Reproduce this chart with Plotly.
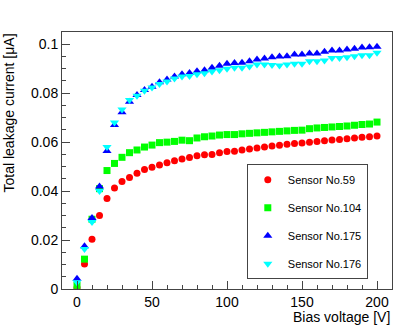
import plotly.graph_objects as go

# bias voltage steps [V]
voltage = list(range(0, 205, 5))

# total leakage current [uA]
sensor_59 = [0.0005, 0.0102, 0.0203, 0.0300, 0.0370, 0.0413, 0.0439, 0.0456, 0.0473, 0.0488,
             0.0497, 0.0507, 0.0516, 0.0524, 0.0531, 0.0537, 0.0544, 0.0548, 0.0550, 0.0557,
             0.0562, 0.0563, 0.0568, 0.0572, 0.0576, 0.0580, 0.0584, 0.0587, 0.0591, 0.0594,
             0.0597, 0.0600, 0.0603, 0.0606, 0.0609, 0.0611, 0.0614, 0.0617, 0.0620, 0.0622,
             0.0625]
sensor_104 = [0.0015, 0.0122, 0.0285, 0.0410, 0.0484, 0.0513, 0.0538, 0.0557, 0.0568, 0.0580,
              0.0588, 0.0598, 0.0600, 0.0603, 0.0608, 0.0606, 0.0617, 0.0622, 0.0625, 0.0629,
              0.0631, 0.0631, 0.0634, 0.0636, 0.0638, 0.0640, 0.0642, 0.0644, 0.0646, 0.0648,
              0.0649, 0.0655, 0.0658, 0.0660, 0.0662, 0.0664, 0.0666, 0.0669, 0.0672, 0.0674,
              0.0682]
sensor_175 = [0.0042, 0.0175, 0.0290, 0.0419, 0.0564, 0.0670, 0.0722, 0.0765, 0.0793, 0.0813,
              0.0826, 0.0845, 0.0856, 0.0868, 0.0877, 0.0883, 0.0890, 0.0894, 0.0904, 0.0912,
              0.0920, 0.0923, 0.0924, 0.0931, 0.0938, 0.0942, 0.0947, 0.0950, 0.0951, 0.0958,
              0.0958, 0.0962, 0.0962, 0.0969, 0.0974, 0.0974, 0.0978, 0.0982, 0.0987, 0.0988,
              0.0990]
sensor_176 = [0.0028, 0.0163, 0.0274, 0.0400, 0.0580, 0.0680, 0.0733, 0.0772, 0.0790, 0.0810,
              0.0823, 0.0838, 0.0848, 0.0860, 0.0868, 0.0870, 0.0877, 0.0881, 0.0889, 0.0894,
              0.0900, 0.0904, 0.0904, 0.0909, 0.0917, 0.0917, 0.0915, 0.0913, 0.0917, 0.0920,
              0.0920, 0.0931, 0.0931, 0.0934, 0.0944, 0.0944, 0.0947, 0.0951, 0.0955, 0.0955,
              0.0965]

series = [
    ("Sensor No.59", sensor_59, "#ff0000", "circle", 7),
    ("Sensor No.104", sensor_104, "#00ff00", "square", 7),
    ("Sensor No.175", sensor_175, "#0000ff", "triangle-up", 8),
    ("Sensor No.176", sensor_176, "#00ffff", "triangle-down", 8),
]

font = "Liberation Sans, Arial, sans-serif"

fig = go.Figure()
for i, (name, values, color, symbol, size) in enumerate(series):
    fig.add_trace(
        go.Scatter(
            x=voltage,
            y=values,
            mode="markers",
            name=name,
            legendgroup=str(i),
            marker=dict(color=color, symbol=symbol, size=size, line=dict(width=0)),
        )
    )

axis_style = dict(
    showgrid=False,
    zeroline=False,
    showline=True,
    linecolor="#444444",
    linewidth=1,
    mirror=True,
    ticks="inside",
    ticklen=8,
    tickcolor="#444444",
    tickfont=dict(family=font, size=14, color="black"),
)

fig.update_layout(
    width=415,
    height=329,
    margin=dict(l=62, r=23, t=32, b=40),
    paper_bgcolor="white",
    plot_bgcolor="white",
    font=dict(family=font, size=14, color="black"),
    xaxis=dict(
        range=[-10, 210],
        dtick=50,
        minor=dict(dtick=10, ticks="inside", ticklen=4, tickcolor="#444444"),
        **axis_style,
    ),
    yaxis=dict(
        range=[0, 0.105],
        dtick=0.02,
        minor=dict(dtick=0.005, ticks="inside", ticklen=4, tickcolor="#444444"),
        **axis_style,
    ),
    showlegend=True,
    legend=dict(
        x=0.56,
        y=0.485,
        xanchor="left",
        yanchor="top",
        bgcolor="white",
        bordercolor="#444444",
        borderwidth=1,
        traceorder="grouped",
        tracegroupgap=9,
        font=dict(family=font, size=11, color="black"),
    ),
    annotations=[
        dict(
            text="Total leakage current [\u03bcA]",
            xref="paper", yref="paper",
            x=0, y=1,
            xanchor="right", yanchor="top",
            xshift=-44,
            textangle=-90,
            showarrow=False,
            font=dict(family=font, size=14),
        ),
        dict(
            text="Bias voltage [V]",
            xref="paper", yref="paper",
            x=1, y=0,
            xanchor="right", yanchor="top",
            yshift=-18,
            showarrow=False,
            font=dict(family=font, size=14),
        ),
    ],
)

# drop the browser's default page margin so the figure sits at the corner
fig.write_html(
    "out.html",
    config={"displayModeBar": False},
    post_script="document.body.style.margin='0';",
)
